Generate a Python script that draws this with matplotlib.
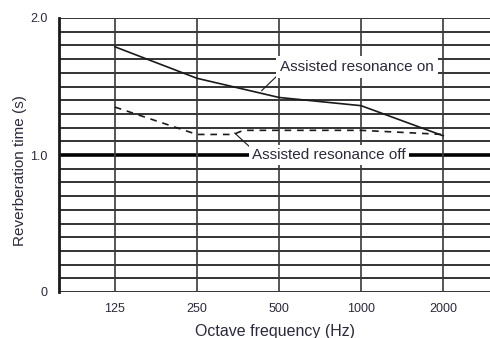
import numpy as np
import matplotlib
matplotlib.use('Agg')
import matplotlib.pyplot as plt

plt.rcParams['font.family'] = ['Liberation Sans', 'DejaVu Sans']

# octave band centres (Hz)
freqs = [125, 250, 500, 1000, 2000]
freq_labels = ['125', '250', '500', '1000', '2000']

# reverberation time with assisted resonance on
rt_on_freq = [125, 250, 500, 1000, 2000]
rt_on = [1.79, 1.56, 1.42, 1.36, 1.14]

# reverberation time with assisted resonance off
rt_off_freq = [125, 250, 340, 370, 1000, 2000]
rt_off = [1.35, 1.15, 1.15, 1.18, 1.18, 1.15]

yticks = [0, 1.0, 2.0]
ytick_labels = ['0', '1.0', '2.0']

txt_col = '#2a2a3c'

fig = plt.figure(figsize=(4.9, 3.38), dpi=100)
ax = fig.add_axes([59/490, 46/338, 1 - 59/490, 274/338])
ax.set_xscale('log', base=2)
ax.set_xlim(125 * 2**-0.68, 125 * 2**4.57)
ax.set_ylim(0, 2.0)

# grid
for y in np.arange(0, 2.01, 0.1):
    if abs(y - 1.0) < 1e-6:
        ax.axhline(y, color='black', lw=2.6, zorder=1)
    else:
        ax.axhline(y, color='#111111', lw=1.2, zorder=1)
for f in freqs:
    ax.axvline(f, color='#3a3a3a', lw=1.2, zorder=1)

ax.plot(rt_on_freq, rt_on, color='#1a1a1a', lw=1.2, zorder=3)
ax.plot(rt_off_freq, rt_off, color='#1a1a1a', lw=1.2, ls=(0, (4, 3.5)), zorder=3)

# labels with leader lines
ax.plot([432, 496], [1.47, 1.585], color='#1a1a1a', lw=0.8, zorder=3)
ax.text(965, 1.64, 'Assisted resonance on', ha='center', va='center', fontsize=11,
        color=txt_col, zorder=5,
        bbox=dict(facecolor='white', edgecolor='none', pad=3))
ax.plot([344, 400], [1.16, 1.04], color='#1a1a1a', lw=0.8, zorder=3)
ax.text(763, 1.0, 'Assisted resonance off', ha='center', va='center', fontsize=11,
        color=txt_col, zorder=5,
        bbox=dict(facecolor='white', edgecolor='none', pad=2))

for s in ['top', 'right', 'bottom']:
    ax.spines[s].set_visible(False)
ax.spines['left'].set_linewidth(2.0)
ax.spines['left'].set_color('#1a1a1a')

ax.set_xticks(freqs)
ax.set_xticklabels(freq_labels)
ax.xaxis.set_minor_locator(matplotlib.ticker.NullLocator())
ax.set_yticks(yticks)
ax.set_yticklabels(ytick_labels)
ax.tick_params(length=0, labelsize=9, colors=txt_col, pad=8)
ax.tick_params(axis='x', pad=8)

ax.set_xlabel('Octave frequency (Hz)', fontsize=11.5, color=txt_col)
ax.xaxis.set_label_coords(0.5, -0.115)
ax.set_ylabel('Reverberation time (s)', fontsize=11, color=txt_col)
ax.yaxis.set_label_coords(-0.075, 0.445)

fig.savefig('out.png', dpi=100)
